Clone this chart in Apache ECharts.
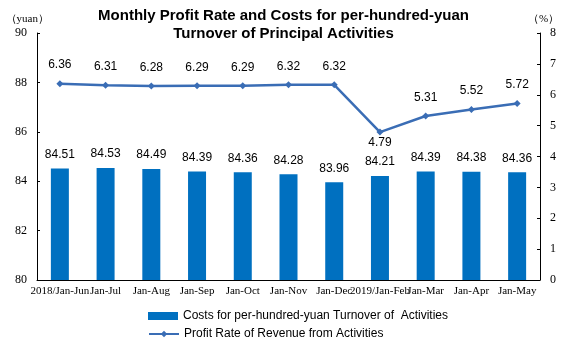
<!DOCTYPE html>
<html><head><meta charset="utf-8">
<script src="https://cdn.jsdelivr.net/npm/echarts@6/dist/echarts.min.js"></script>
<style>html,body{margin:0;padding:0;background:#fff}#c{width:567px;height:340px}</style>
</head><body><div id="c"></div>
<script>
var categories = ['2018/Jan-Jun','Jan-Jul','Jan-Aug','Jan-Sep','Jan-Oct','Jan-Nov','Jan-Dec','2019/Jan-Feb','Jan-Mar','Jan-Apr','Jan-May'];
var costs = [84.51,84.53,84.49,84.39,84.36,84.28,83.96,84.21,84.39,84.38,84.36];
var profitRate = [6.36,6.31,6.28,6.29,6.29,6.32,6.32,4.79,5.31,5.52,5.72];
var leftTicks = {min:80,max:90,interval:2};
var rightTicks = {min:0,max:8,interval:1};

var chart = echarts.init(document.getElementById('c'));
var serif = 'Liberation Serif';
var sans = 'Liberation Sans';
var barName = 'Costs for per-hundred-yuan Turnover of  Activities';
var lineName = 'Profit Rate of Revenue from Activities';
chart.setOption({
  animation:false,
  title:{text:'Monthly Profit Rate and Costs for per-hundred-yuan\nTurnover of Principal Activities',left:'center',top:2,
    textStyle:{fontFamily:sans,fontWeight:'bold',fontSize:15,color:'#000',lineHeight:18}},
  legend:[
    {left:143,top:305,itemWidth:30,itemHeight:8,textStyle:{fontFamily:sans,fontSize:12,color:'#000'},
     data:[{name:barName,icon:'rect'}]},
    {left:143,top:323,itemWidth:30,itemHeight:8,textStyle:{fontFamily:sans,fontSize:12,color:'#000'},
     data:[{name:lineName}]}
  ],
  grid:{left:37,right:27,top:33,bottom:60},
  xAxis:{type:'category',data:categories,boundaryGap:true,
    axisLine:{lineStyle:{color:'#000',width:1}},
    axisTick:{inside:true,length:4,lineStyle:{color:'#000'}},
    axisLabel:{interval:0,fontFamily:serif,fontSize:11,color:'#000',margin:6}},
  yAxis:[
    {type:'value',min:leftTicks.min,max:leftTicks.max,interval:leftTicks.interval,name:'（yuan）',
     nameGap:8,nameTextStyle:{fontFamily:serif,fontSize:11,color:'#000',align:'right',padding:[0,-12,0,0]},
     axisLine:{show:true,lineStyle:{color:'#000'}},axisTick:{show:true,inside:true,length:3,lineStyle:{color:'#000'}},
     splitLine:{show:false},axisLabel:{fontFamily:serif,fontSize:12,color:'#000',margin:10}},
    {type:'value',min:rightTicks.min,max:rightTicks.max,interval:rightTicks.interval,name:'（%）',
     nameGap:8,nameTextStyle:{fontFamily:serif,fontSize:11,color:'#000',align:'left',padding:[0,0,0,-12]},
     axisLine:{show:true,lineStyle:{color:'#000'}},axisTick:{show:true,inside:true,length:3,lineStyle:{color:'#000'}},
     splitLine:{show:false},axisLabel:{fontFamily:serif,fontSize:12,color:'#000',margin:10}}
  ],
  series:[
    {name:barName,type:'bar',yAxisIndex:0,data:costs,barWidth:18,
     itemStyle:{color:'#0070C0'},
     label:{show:true,position:'top',distance:8,fontFamily:sans,fontSize:12,color:'#000',formatter:function(p){return p.value.toFixed(2);}}},
    {name:lineName,type:'line',yAxisIndex:1,data:profitRate,
     symbol:'diamond',symbolSize:7,lineStyle:{color:'#3A6DB5',width:2.5},itemStyle:{color:'#3A6DB5'},
     label:{show:true,position:'top',distance:9,fontFamily:sans,fontSize:12,color:'#000',formatter:function(p){return p.value.toFixed(2);}},
     labelLayout:function(p){ return p.dataIndex===7 ? {dy:29} : {}; }}
  ]
});
</script></body></html>
